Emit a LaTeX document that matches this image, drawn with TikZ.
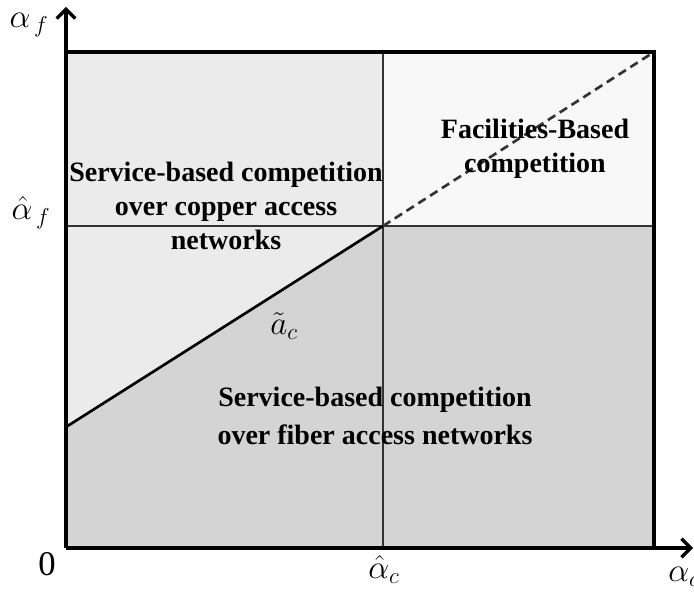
\documentclass[tikz,border=0pt]{standalone}
\usepackage{fontspec}
\setmainfont{Liberation Serif}
\usetikzlibrary{arrows.meta}
\definecolor{copperfill}{HTML}{EBEBEB}
\definecolor{fiberfill}{HTML}{D4D4D4}
\definecolor{facilfill}{HTML}{F8F8F8}

\begin{document}
\begin{tikzpicture}[x=0.75pt, y=-0.75pt,
    region/.style={align=center, font=\fontsize{21}{25.5}\selectfont\bfseries, inner sep=0pt},
    axislabel/.style={font=\fontsize{26}{26}\selectfont, inner sep=0pt},
    axis/.style={line width=2.6pt, -{Straight Barb[length=7pt,width=14pt,line width=2.4pt]}},
    divider/.style={line width=2pt, draw=black!80}
]
    \useasboundingbox (0,0) rectangle (694,599);
    % corners and crossing points
    \coordinate (O) at (66,548);
    \coordinate (tl) at (66,52);
    \coordinate (tr) at (654,52);
    \coordinate (br) at (654,548);
    \coordinate (mid) at (383,226);
    \coordinate (midtop) at (383,52);
    \coordinate (midbot) at (383,548);
    \coordinate (fl) at (66,226);
    \coordinate (fr) at (654,226);
    \coordinate (diag) at (66,427);
    \coordinate (ytip) at (66,7);
    \coordinate (xtip) at (693,548);

    % regions
    \fill[fiberfill] (O) rectangle (tr);
    \fill[copperfill] (tl) -- (midtop) -- (mid) -- (diag) -- cycle;
    \fill[facilfill] (midtop) rectangle (fr);

    % borders
    \draw[divider] (midtop) -- (midbot);
    \draw[divider] (fl) -- (fr);
    \draw[line width=2pt] (diag) -- (mid);
    \draw[line width=2pt, draw=black!80, dash pattern=on 6.5pt off 4pt] (mid) -- (tr);
    \draw[line width=2.4pt] (tl) -- (tr) -- (br);
    \draw[axis] (O) -- (ytip);
    \draw[axis] (O) -- (xtip);

    % axis labels
    \node[axislabel] (af) at (29,25) {$\alpha_{\,f}$};
    \node[axislabel] (afhat) at (31,213) {$\hat{\alpha}_{\,f}$};
    \node[axislabel] (zero) at (47,564) {0};
    \node[axislabel] (achat) at (384,569) {$\hat{\alpha}_c$};
    \node[axislabel] (ac) at (684,577) {$\alpha_c$};
    \node[axislabel] (actilde) at (284,326) {$\tilde{a}_c$};

    % region labels
    \node[region] (copper) at (226,206) {Service-based competition\\over copper access\\networks};
    \node[region] (facil) at (535,149) {Facilities-Based\\competition};
    \node[region, font=\fontsize{21}{28}\selectfont\bfseries] (fiber) at (375,416) {Service-based competition\\over fiber access networks};
\end{tikzpicture}
\end{document}
